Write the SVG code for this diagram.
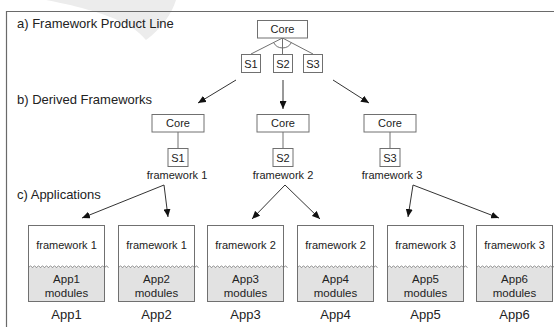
<svg xmlns="http://www.w3.org/2000/svg" width="554" height="327" viewBox="0 0 554 327">
  <style>
    .box { fill: #fff; stroke: #707070; stroke-width: 1; }
    .mod { fill: #e2e2e2; stroke: none; }
    .wave { fill: none; stroke: #6a6a6a; stroke-width: 0.8; }
    .frame { fill: none; stroke: #6a6a6a; stroke-width: 1.2; }
    .link { fill: none; stroke: #707070; stroke-width: 1; }
    .arrow { fill: none; stroke: #333; stroke-width: 1; marker-end: url(#head); }
    text { font-family: "Liberation Sans", Arial, sans-serif; fill: #222; }
    .sec { font-size: 13px; }
    .lbl { font-size: 11px; text-anchor: middle; }
    .mid { font-size: 11.5px; text-anchor: middle; }
    .app { font-size: 13px; text-anchor: middle; }
  </style>
  <defs>
    <marker id="head" markerWidth="9" markerHeight="7" refX="8" refY="3.5" orient="auto" markerUnits="userSpaceOnUse">
      <path d="M0,0 L8,3.5 L0,7 z" fill="#111"/>
    </marker>
    <!-- zigzag seam between framework part and application modules -->
    <path id="seam" class="wave" d="M0,42 l2,-1.5 l2,1.5 l2,-1.5 l2,1.5 l2,-1.5 l2,1.5 l2,-1.5 l2,1.5 l2,-1.5 l2,1.5 l2,-1.5 l2,1.5 l2,-1.5 l2,1.5 l2,-1.5 l2,1.5 l2,-1.5 l2,1.5 l2,-1.5 l2,1.5 l2,-1.5 l2,1.5 l2,-1.5 l2,1.5 l2,-1.5 l2,1.5 l2,-1.5 l2,1.5 l2,-1.5 l2,1.5 l2,-1.5 l2,1.5 l2,-1.5 l2,1.5 l2,-1.5 l2,1.5 l2,-1.5 l2,1.5 l2,-1.5 l2,1.5"/>
    <g id="appbox">
      <rect class="box" x="0" y="0" width="76" height="76"/>
      <rect class="mod" x="0.5" y="42" width="75" height="33.5"/>
      <use href="#seam"/>
      <rect x="0" y="0" width="76" height="76" fill="none" stroke="#707070"/>
    </g>
  </defs>

  <!-- light swoosh in the corner -->
  <path d="M46,0 L176,0 C172,14 160,30 146,40 C138,30 120,14 46,0 z" fill="#ececec"/>

  <!-- outer frame -->
  <path class="frame" d="M6.5,327 L6.5,11.5 L554,11.5"/>

  <!-- section titles -->
  <text class="sec" x="17" y="28">a) Framework Product Line</text>
  <text class="sec" x="17" y="104">b) Derived Frameworks</text>
  <text class="sec" x="17" y="199">c) Applications</text>

  <!-- connectors -->
  <g id="connectors">
    <!-- feature tree: alternative group -->
    <path class="link" d="M282.5,38 L251,54 M282.5,38 L282.5,54 M282.5,38 L313,54"/>
    <path class="link" d="M273.6,42.5 A10,10 0 0 0 291.4,42.5"/>
    <!-- derived framework cores to their variant -->
    <path class="link" d="M178,132 L178,148 M283,132 L283,148 M390,132 L390,148"/>
    <!-- product line to derived frameworks -->
    <path class="arrow" d="M236,80 L198,103"/>
    <path class="arrow" d="M283,80 L283,109"/>
    <path class="arrow" d="M333,80 L369,103"/>
    <!-- derived frameworks to applications -->
    <path class="arrow" d="M164,185 L82,218"/>
    <path class="arrow" d="M164,185 L168,217"/>
    <path class="arrow" d="M285,185 L252,219"/>
    <path class="arrow" d="M285,185 L320,219"/>
    <path class="arrow" d="M413,185 L408,217"/>
    <path class="arrow" d="M413,185 L499,218"/>
  </g>

  <!-- a) product line -->
  <g id="pl-core">
    <rect class="box" x="257.5" y="20.5" width="50" height="17.5"/>
    <text class="lbl" x="282.5" y="33">Core</text>
  </g>
  <g id="pl-s1">
    <rect class="box" x="241.5" y="54.5" width="19" height="18"/>
    <text class="lbl" x="251" y="67.5">S1</text>
  </g>
  <g id="pl-s2">
    <rect class="box" x="273.5" y="54.5" width="19" height="18"/>
    <text class="lbl" x="283" y="67.5">S2</text>
  </g>
  <g id="pl-s3">
    <rect class="box" x="303.5" y="54.5" width="19" height="18"/>
    <text class="lbl" x="313" y="67.5">S3</text>
  </g>

  <!-- b) derived frameworks -->
  <g id="fw1">
    <rect class="box" x="152" y="114.5" width="52" height="17.5"/>
    <text class="lbl" x="178" y="127">Core</text>
    <rect class="box" x="168" y="148.5" width="20" height="18"/>
    <text class="lbl" x="178" y="161.5">S1</text>
    <text class="lbl" x="177" y="179">framework 1</text>
  </g>
  <g id="fw2">
    <rect class="box" x="257" y="114.5" width="52" height="17.5"/>
    <text class="lbl" x="283" y="127">Core</text>
    <rect class="box" x="273" y="148.5" width="20" height="18"/>
    <text class="lbl" x="283" y="161.5">S2</text>
    <text class="lbl" x="283" y="179">framework 2</text>
  </g>
  <g id="fw3">
    <rect class="box" x="364" y="114.5" width="52" height="17.5"/>
    <text class="lbl" x="390" y="127">Core</text>
    <rect class="box" x="380" y="148.5" width="20" height="18"/>
    <text class="lbl" x="390" y="161.5">S3</text>
    <text class="lbl" x="392" y="179">framework 3</text>
  </g>

  <!-- c) applications -->
  <g id="app1" transform="translate(28.5,225.5)">
    <use href="#appbox"/>
    <text class="lbl" x="38" y="23">framework 1</text>
    <text class="mid" x="38" y="57">App1</text>
    <text class="mid" x="38" y="71">modules</text>
    <text class="app" x="38" y="93.5">App1</text>
  </g>
  <g id="app2" transform="translate(118.5,225.5)">
    <use href="#appbox"/>
    <text class="lbl" x="38" y="23">framework 1</text>
    <text class="mid" x="38" y="57">App2</text>
    <text class="mid" x="38" y="71">modules</text>
    <text class="app" x="38" y="93.5">App2</text>
  </g>
  <g id="app3" transform="translate(207.5,225.5)">
    <use href="#appbox"/>
    <text class="lbl" x="38" y="23">framework 2</text>
    <text class="mid" x="38" y="57">App3</text>
    <text class="mid" x="38" y="71">modules</text>
    <text class="app" x="38" y="93.5">App3</text>
  </g>
  <g id="app4" transform="translate(297.5,225.5)">
    <use href="#appbox"/>
    <text class="lbl" x="38" y="23">framework 2</text>
    <text class="mid" x="38" y="57">App4</text>
    <text class="mid" x="38" y="71">modules</text>
    <text class="app" x="38" y="93.5">App4</text>
  </g>
  <g id="app5" transform="translate(387.5,225.5)">
    <use href="#appbox"/>
    <text class="lbl" x="38" y="23">framework 3</text>
    <text class="mid" x="38" y="57">App5</text>
    <text class="mid" x="38" y="71">modules</text>
    <text class="app" x="38" y="93.5">App5</text>
  </g>
  <g id="app6" transform="translate(476.5,225.5)">
    <use href="#appbox"/>
    <text class="lbl" x="38" y="23">framework 3</text>
    <text class="mid" x="38" y="57">App6</text>
    <text class="mid" x="38" y="71">modules</text>
    <text class="app" x="38" y="93.5">App6</text>
  </g>
</svg>
